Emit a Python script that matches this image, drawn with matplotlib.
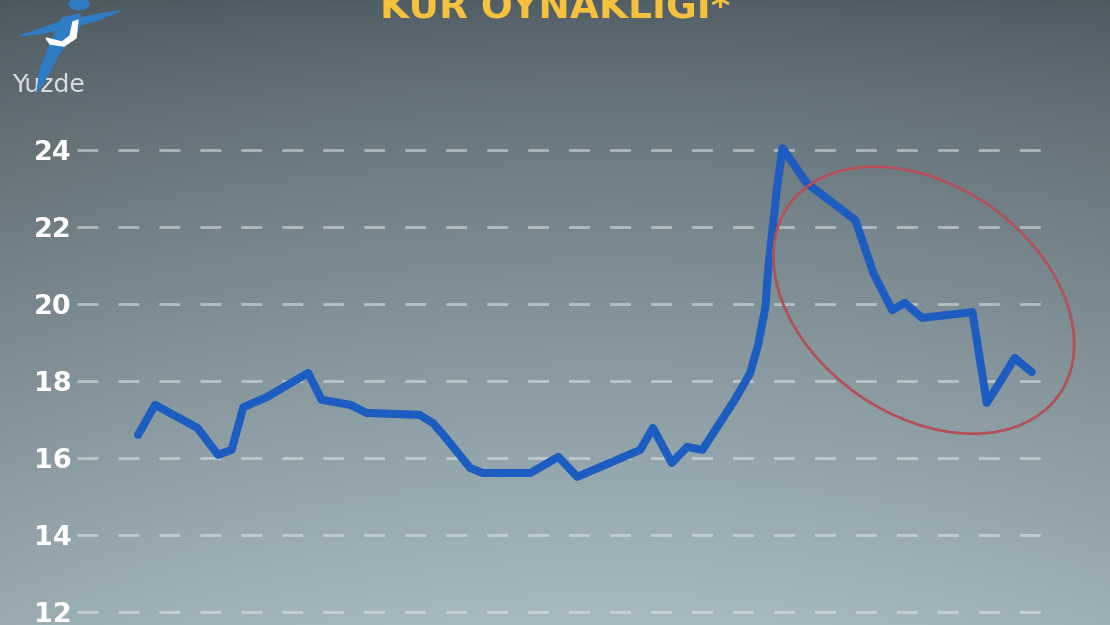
import numpy as np
import matplotlib.pyplot as plt
from matplotlib.patches import Ellipse, Circle, Polygon
import matplotlib.transforms as mtransforms

# Weekly-ish positions and exchange-rate volatility values
weeks = [0, 1.9, 6.6, 8.9, 10.4, 11.7, 14.3, 18.9, 20.4, 23.6, 25.4, 31.3, 32.8,
         34.1, 36.9, 38.3, 43.6, 46.7, 48.8, 55.8, 57.2, 59.3, 61.0, 62.7, 66.3,
         68.0, 68.9, 69.7, 70.0, 70.4, 71.0, 71.6, 74.3, 79.7, 81.7, 83.8, 85.2,
         87.1, 92.7, 94.3, 96.1, 97.4, 99.3]
volatility = [16.60, 17.38, 16.78, 16.08, 16.21, 17.32, 17.58, 18.21, 17.51, 17.38,
              17.17, 17.12, 16.90, 16.55, 15.74, 15.61, 15.61, 16.03, 15.51, 16.21,
              16.78, 15.87, 16.29, 16.21, 17.51, 18.20, 18.94, 19.92, 20.88, 21.74,
              23.04, 24.05, 23.14, 22.18, 20.80, 19.84, 20.03, 19.64, 19.79, 17.43,
              18.10, 18.60, 18.23]
yticks = [12, 14, 16, 18, 20, 22, 24]
title = 'KUR OYNAKLIĞI*'

W, H = 1110, 625
fig = plt.figure(figsize=(W / 100, H / 100), dpi=100)

# background gradient
bg = fig.add_axes([0, 0, 1, 1], zorder=-10)
yy, xx = np.mgrid[0:1:300j, 0:1:500j]
top = np.array([0x52, 0x5e, 0x65]) / 255
bot = np.array([0xa6, 0xba, 0xc0]) / 255
t = np.clip(yy ** 0.8, 0, 1)[..., None]
img = top * (1 - t) + bot * t
vign = 1 - 0.10 * ((xx - 0.55) * 1.6) ** 2
img = np.clip(img * vign[..., None], 0, 1)
bg.imshow(img, aspect='auto', extent=[0, 1, 0, 1], origin='upper')
bg.axis('off')

# main axes, pixel-to-data mapping matched to the reference
ax = fig.add_axes([77 / W, 0, 980 / W, 1])
ax.set_facecolor('none')
ax.set_xlim(-6.78, 102.1)
ax.set_ylim(11.66, 27.9)
for s in ax.spines.values():
    s.set_visible(False)
ax.set_xticks([])
ax.set_yticks(yticks)
ax.set_yticklabels([str(v) for v in yticks])
ax.tick_params(axis='y', length=0, pad=4, labelcolor='white', labelsize=19.5)
for lab in ax.get_yticklabels():
    lab.set_fontweight('bold')
grid_lw = 2.0
ax.yaxis.grid(True, color='#e2eaec', alpha=0.55, lw=grid_lw,
              linestyle=(0, (15.0 / grid_lw, 14.5 / grid_lw)))
ax.set_axisbelow(True)

ax.plot(weeks, volatility, color='#1d5cc0', lw=5.8, solid_joinstyle='round',
        solid_capstyle='round', zorder=3)

# red ellipse highlighting the recent decline
tr = fig.dpi_scale_trans + mtransforms.ScaledTranslation(87.3, 20.1, ax.transData)
ax.add_patch(Ellipse((0, 0), 3.3, 2.3, angle=-35, transform=tr, fill=False,
                     edgecolor='#b2505c', lw=2, zorder=4, clip_on=False))

# title, cut off at the top like the reference
fig.text(555 / W, 1 - 18 / H, title, ha='center', va='baseline', color='#f6c23e',
         fontsize=27, fontweight='heavy')

# logo
def px(x, y):
    return (x / W, 1 - y / H)

logo_blue = '#2e7cc4'
fig.patches.append(Circle(px(79, 4), 10 / W, transform=fig.transFigure,
                          color=logo_blue, zorder=5))
fig.patches.append(Polygon([px(20, 36), px(60, 22), px(100, 14), px(120, 11),
                            px(98, 20), px(70, 28), px(38, 34)],
                           closed=True, transform=fig.transFigure, color=logo_blue, zorder=5))
fig.patches.append(Polygon([px(62, 18), px(80, 14), px(78, 32), px(60, 52),
                            px(45, 80), px(37, 92), px(40, 70), px(50, 45)],
                           closed=True, transform=fig.transFigure, color=logo_blue, zorder=5))
fig.patches.append(Polygon([px(46, 38), px(62, 42), px(70, 36), px(73, 22),
                            px(78, 20), px(76, 38), px(64, 46), px(50, 44)],
                           closed=True, transform=fig.transFigure, color='white', zorder=6))
fig.text(12 / W, 1 - 92 / H, 'Yuzde', ha='left', va='baseline', color='#d9dde0',
         fontsize=18)

fig.savefig('out.png', dpi=100)
